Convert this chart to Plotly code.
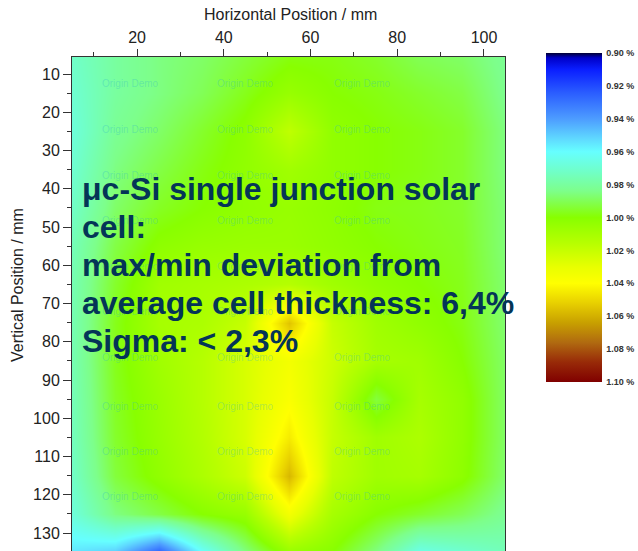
import plotly.graph_objects as go

# ---- data ----
x_pos = [5, 15, 25, 35, 45, 55, 65, 75, 85, 95, 105]          # mm
y_pos = [5, 15, 25, 35, 45, 55, 65, 75, 85, 95, 105, 115, 125, 135]  # mm

row_05 = [0.972, 0.980, 0.985, 0.988, 0.993, 0.998, 0.998, 0.995, 0.990, 0.988, 0.982]
row_15 = [0.970, 0.980, 0.985, 0.990, 0.997, 1.005, 1.000, 0.998, 0.995, 0.992, 0.983]
row_25 = [0.968, 0.982, 0.988, 0.995, 1.002, 1.018, 1.003, 1.000, 0.998, 0.995, 0.985]
row_35 = [0.970, 0.985, 0.992, 0.998, 1.003, 1.008, 1.003, 1.000, 0.998, 0.995, 0.985]
row_45 = [0.972, 0.988, 0.996, 1.000, 1.003, 1.005, 1.002, 0.998, 0.997, 0.995, 0.986]
row_55 = [0.975, 0.992, 1.002, 1.005, 1.006, 1.006, 1.003, 1.000, 0.998, 0.996, 0.986]
row_65 = [0.976, 0.995, 1.008, 1.010, 1.012, 1.015, 1.008, 1.003, 1.000, 0.997, 0.987]
row_75 = [0.976, 0.997, 1.010, 1.012, 1.020, 1.055, 1.020, 1.008, 1.003, 0.998, 0.987]
row_85 = [0.976, 0.997, 1.008, 1.015, 1.025, 1.035, 1.022, 1.010, 1.008, 1.000, 0.988]
row_95 = [0.975, 0.996, 1.006, 1.015, 1.025, 1.038, 1.020, 0.993, 1.010, 1.003, 0.988]
row_105 = [0.974, 0.995, 1.005, 1.014, 1.025, 1.045, 1.020, 1.008, 1.012, 1.003, 0.988]
row_115 = [0.972, 0.993, 1.003, 1.012, 1.022, 1.058, 1.018, 1.008, 1.010, 1.002, 0.987]
row_125 = [0.968, 0.985, 0.992, 1.000, 1.005, 1.035, 1.010, 1.000, 0.995, 0.990, 0.982]
row_135 = [0.955, 0.950, 0.925, 0.960, 0.985, 1.005, 1.000, 0.985, 0.965, 0.970, 0.975]

thickness = [row_05, row_15, row_25, row_35, row_45, row_55, row_65, row_75,
             row_85, row_95, row_105, row_115, row_125, row_135]

x_ticks = [20, 40, 60, 80, 100]
y_ticks = [10, 20, 30, 40, 50, 60, 70, 80, 90, 100, 110, 120, 130]
cbar_ticks = [0.90, 0.92, 0.94, 0.96, 0.98, 1.00, 1.02, 1.04, 1.06, 1.08, 1.10]
cbar_labels = ["0.90 %", "0.92 %", "0.94 %", "0.96 %", "0.98 %", "1.00 %",
               "1.02 %", "1.04 %", "1.06 %", "1.08 %", "1.10 %"]

note_lines = ["μc-Si single junction solar", "cell:", "max/min deviation from",
              "average cell thickness: 6,4%", "Sigma: < 2,3%"]

watermark = "Origin Demo"
wm_x = [18.5, 45, 72]
wm_y = [12.6, 24.5, 36.4, 48.3, 60.2, 72.1, 84.0, 96.8, 108.7, 120.5]

# ---- styling ----
FONT = "Liberation Sans, Arial, sans-serif"
W, H = 638, 551
L, R, T, B = 72, 133, 57, 0
pw, ph = W - L - R, H - T - B

def px_x(p):
    return (p - L) / pw

def px_y(p):
    return (H - B - p) / ph

# colour scale, low (0.90) -> high (1.10)
colorscale = [
    [0.0, "#000033"], [0.015, "#0000c8"], [0.05, "#0a1eff"], [0.12, "#2a5cff"],
    [0.2, "#4d9cff"], [0.26, "#5fd8ff"], [0.3, "#66ffff"], [0.36, "#70ffc8"],
    [0.42, "#7dff8a"], [0.5, "#88ff00"], [0.58, "#b8ff00"], [0.65, "#e8ff00"],
    [0.7, "#ffff00"], [0.76, "#e8d000"], [0.82, "#c8a000"], [0.88, "#b06a10"],
    [0.94, "#982a08"], [1.0, "#800000"],
]
# the reference colour bar runs 0.90 at the top to 1.10 at the bottom:
# plot the negated value with a mirrored scale so the bar is flipped
flip_scale = [[1 - s, c] for s, c in reversed(colorscale)]
z_flip = [[-v for v in row] for row in thickness]

fig = go.Figure()
fig.add_trace(go.Heatmap(
    x=x_pos, y=y_pos, z=z_flip,
    zmin=-1.10, zmax=-0.90, zsmooth="best",
    colorscale=flip_scale,
    colorbar=dict(
        thickness=56, thicknessmode="pixels",
        len=329, lenmode="pixels",
        x=px_x(546), xanchor="left", xpad=0,
        y=px_y(53), yanchor="top", ypad=0,
        outlinewidth=0,
        tickvals=[-t for t in cbar_ticks], ticktext=cbar_labels,
        ticks="outside", ticklen=3, tickcolor="rgba(0,0,0,0)",
        tickfont=dict(family=FONT, size=9, color="#333333", weight="bold"),
    ),
    hoverinfo="skip",
))

annotations = []
for wy in wm_y:
    for wx in wm_x:
        annotations.append(dict(
            x=wx, y=wy, xref="x", yref="y", text=watermark, showarrow=False,
            font=dict(family=FONT, size=10, color="rgba(40,180,200,0.3)"),
        ))

line_centers = [189, 227, 265, 303, 341]
for txt, cy in zip(note_lines, line_centers):
    annotations.append(dict(
        x=px_x(80), y=px_y(cy), xref="paper", yref="paper",
        xanchor="left", yanchor="middle", text=txt, showarrow=False,
        font=dict(family=FONT, size=32, color="#043557", weight="bold"),
    ))

annotations.append(dict(
    x=px_x(290), y=px_y(15), xref="paper", yref="paper",
    xanchor="center", yanchor="middle",
    text="Horizontal Position / mm", showarrow=False,
    font=dict(family=FONT, size=16, color="#222222"),
))
annotations.append(dict(
    x=px_x(17), y=px_y(285), xref="paper", yref="paper",
    xanchor="center", yanchor="middle",
    text="Vertical Position / mm", showarrow=False, textangle=-90,
    font=dict(family=FONT, size=16, color="#222222"),
))

fig.update_layout(
    width=W, height=H,
    margin=dict(l=L, r=R, t=T, b=B, pad=0),
    paper_bgcolor="white", plot_bgcolor="white",
    font=dict(family=FONT, size=16, color="#222222"),
    annotations=annotations,
    xaxis=dict(
        side="top", range=[5, 104.85], tickvals=x_ticks,
        ticks="outside", ticklen=7, tickwidth=1, tickcolor="#333",
        minor=dict(ticks="outside", ticklen=4, dtick=10, tick0=0, tickcolor="#333"),
        showline=True, linecolor="#333", linewidth=1, mirror=True,
        showgrid=False, zeroline=False,
        tickfont=dict(family=FONT, size=16, color="#222"),
    ),
    yaxis=dict(
        range=[134.7, 5.55], tickvals=y_ticks,
        ticks="outside", ticklen=8, tickwidth=1, tickcolor="#333",
        minor=dict(ticks="outside", ticklen=4, dtick=5, tick0=0, tickcolor="#333"),
        showline=True, linecolor="#333", linewidth=1, mirror=True,
        showgrid=False, zeroline=False,
        tickfont=dict(family=FONT, size=16, color="#222"),
    ),
)

fig.write_html(
    "out.html",
    config={"displayModeBar": False},
    post_script="document.body.style.margin='0';document.body.style.padding='0';",
)
